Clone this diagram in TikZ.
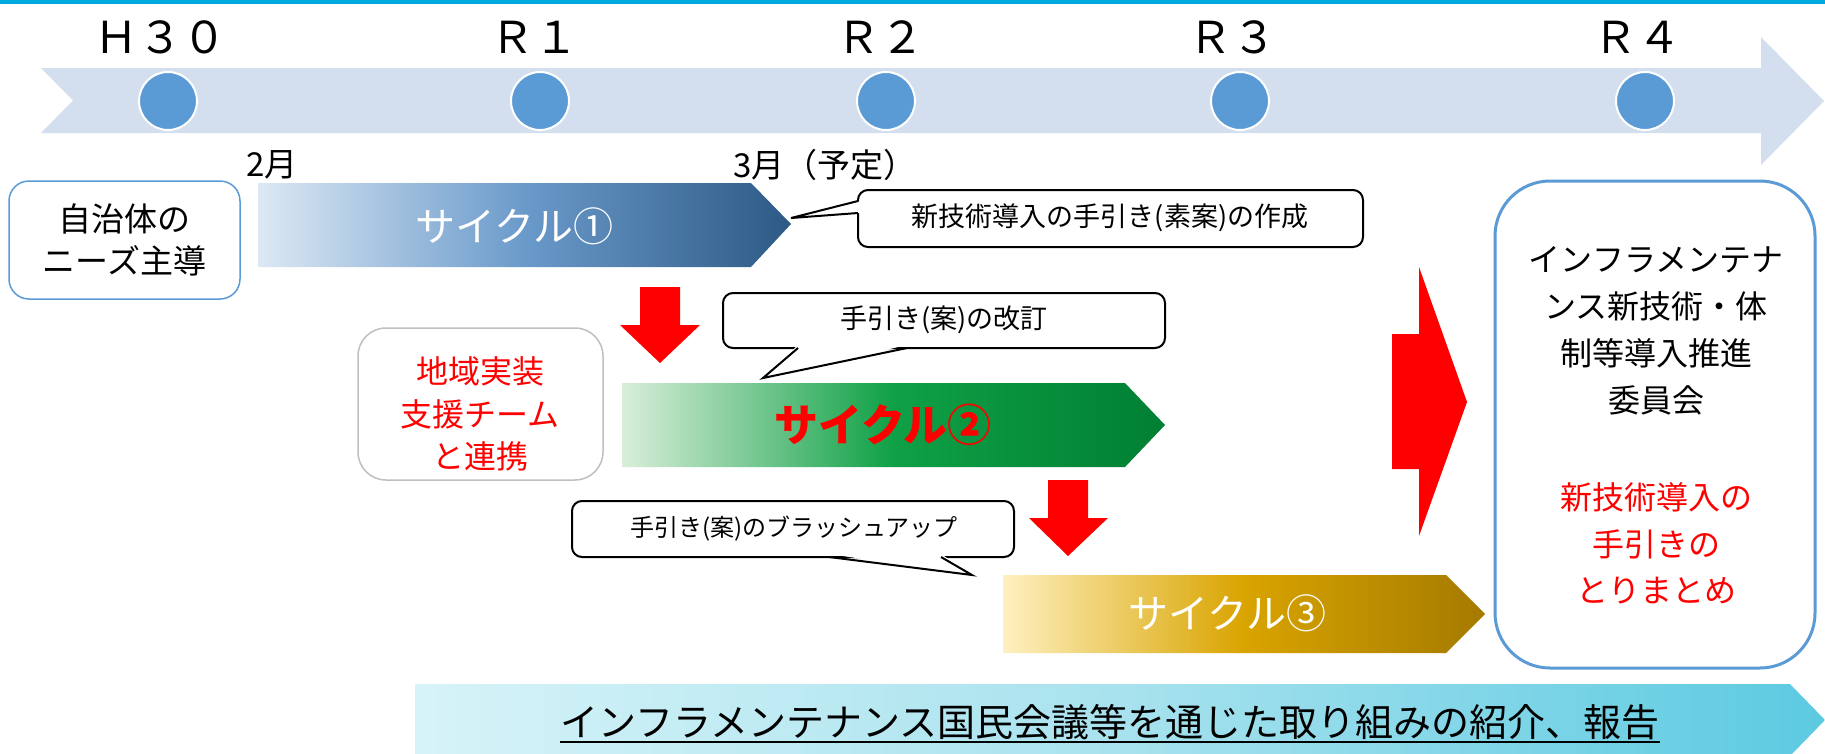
\documentclass[tikz,border=0pt]{standalone}
\usepackage{fontspec}
\setmainfont{Noto Sans CJK JP}
\newcommand\myfs[2]{\fontsize{#1pt}{#2pt}\selectfont}
\definecolor{topline}{HTML}{00A9DE}
\definecolor{band}{HTML}{D3DFEE}
\definecolor{dotblue}{HTML}{5B9BD5}
\definecolor{cAl}{HTML}{DDE8F4}
\definecolor{cAm}{HTML}{6A9ACA}
\definecolor{cAr}{HTML}{2D5985}
\definecolor{cBl}{HTML}{D9EED9}
\definecolor{cBm}{HTML}{0FA046}
\definecolor{cBr}{HTML}{007F33}
\definecolor{cCl}{HTML}{FEF0C0}
\definecolor{cCm}{HTML}{D9A400}
\definecolor{cCr}{HTML}{A47A00}
\definecolor{bnl}{HTML}{D6F3F8}
\definecolor{bnm}{HTML}{A8E2EE}
\definecolor{bnr}{HTML}{5CCAE1}
\definecolor{grayline}{HTML}{BFBFBF}
\definecolor{myred}{HTML}{FF0000}
\begin{document}
\begin{tikzpicture}[x=1pt,y=-1pt,
  dot/.style={circle,fill=dotblue,draw=white,line width=2pt,minimum size=58pt,inner sep=0pt},
  yr/.style={font=\myfs{44}{50},inner sep=0pt,anchor=base},
  mon/.style={font=\myfs{33}{36},inner sep=0pt},
  callbox/.style={draw=black,line width=2pt,fill=white,rounded corners=10pt,inner sep=0pt},
  callptr/.style={draw=black,line width=2pt,line join=miter},
  redarrow/.style={fill=myred},
  cyctext/.style={font=\myfs{40}{44},inner sep=0pt,text=white}
]
\useasboundingbox (0,0) rectangle (1825,753);
\fill[white] (0,0) rectangle (1825,753);
% top line
\fill[topline] (0,0) rectangle (1825,4);
% timeline band
\fill[band] (41,68) -- (1761,68) -- (1761,37) -- (1824,101) -- (1761,165) -- (1761,133) -- (41,133) -- (73,100.5) -- cycle;
\node[dot] (d0) at (168,101) {};
\node[dot] (d1) at (540,101) {};
\node[dot] (d2) at (886,101) {};
\node[dot] (d3) at (1240,101) {};
\node[dot] (d4) at (1645,101) {};
\node[yr] (y0) at (160,53) {Ｈ３０};
\node[yr] (y1) at (534,53) {Ｒ１};
\node[yr] (y2) at (880,53) {Ｒ２};
\node[yr] (y3) at (1232,53) {Ｒ３};
\node[yr] (y4) at (1637,53) {Ｒ４};
\node[mon] (m1) at (272,165) {2月};
\node[mon] (m2) at (825,165) {3月（予定）};
% left box
\node[draw=dotblue,line width=1.5pt,rounded corners=20pt,fill=white,minimum width=231pt,minimum height=118pt,align=center,font=\myfs{33}{42},inner sep=0pt] (need) at (124.5,240) {自治体の\\ニーズ主導};
% cycle 1
\shade[left color=cAl,right color=cAr,middle color=cAm] (258,183) -- (751,183) -- (791,224) -- (751,267) -- (258,267) -- cycle;
\node[cyctext] (cy1) at (514,226) {サイクル①};
% callout 1
\node[callbox,minimum width=505pt,minimum height=57pt] (k1) at (1110.5,218.5) {};
\fill[white] (861,201) -- (791,218) -- (861,213) -- cycle;
\draw[callptr] (858,201) -- (791,218) -- (858,213);
\node[font=\myfs{27}{30},inner sep=0pt] (k1t) at (1110,218) {新技術導入の手引き(素案)の作成};
% red arrow 1
\fill[redarrow] (640,287) -- (680,287) -- (680,325) -- (700,325) -- (660,363) -- (620,325) -- (640,325) -- cycle;
% callout 2
\node[callbox,minimum width=442pt,minimum height=55pt] (k2) at (944,320.5) {};
\fill[white] (798,345) -- (763,378) -- (907,345) -- cycle;
\draw[callptr] (798,348) -- (763,378) -- (907,348);
\node[font=\myfs{27}{30},inner sep=0pt] (k2t) at (944,320) {手引き(案)の改訂};
% regional box
\node[draw=grayline,line width=1.5pt,rounded corners=28pt,fill=white,minimum width=245pt,minimum height=152pt,inner sep=0pt] (reg) at (480.5,404) {};
\node[align=center,font=\myfs{32}{42.5},text=myred,inner sep=0pt] (regt) at (480,414) {地域実装\\支援チーム\\と連携};
% cycle 2
\shade[left color=cBl,right color=cBr,middle color=cBm] (622,383) -- (1125,383) -- (1165,425) -- (1125,467) -- (622,467) -- cycle;
\node[font=\myfs{44}{48}\bfseries,inner sep=0pt,text=myred] (cy2) at (883,425) {サイクル②};
% red arrow 2
\fill[redarrow] (1048,480) -- (1088,480) -- (1088,518) -- (1108,518) -- (1068,556) -- (1029,518) -- (1048,518) -- cycle;
% callout 3
\node[callbox,minimum width=442pt,minimum height=56pt] (k3) at (793,529) {};
\fill[white] (829,554) -- (972,575) -- (941,554) -- cycle;
\draw[callptr] (829,557) -- (972,575) -- (941,557);
\node[font=\myfs{24}{28},inner sep=0pt] (k3t) at (794,529) {手引き(案)のブラッシュアップ};
% cycle 3
\shade[left color=cCl,right color=cCr,middle color=cCm] (1003,575) -- (1446,575) -- (1485,614) -- (1446,653) -- (1003,653) -- cycle;
\node[cyctext] (cy3) at (1227,613) {サイクル③};
% big red arrow
\fill[redarrow] (1392,334) -- (1419,334) -- (1419,267) -- (1467,402) -- (1419,536) -- (1419,469) -- (1392,469) -- cycle;
% committee box
\node[draw=dotblue,line width=3pt,rounded corners=55pt,fill=white,minimum width=320pt,minimum height=487pt,inner sep=0pt] (com) at (1655,424.5) {};
\node[align=center,font=\myfs{32}{47},inner sep=0pt] (comt) at (1656,331) {インフラメンテナ\\ンス新技術・体\\制等導入推進\\委員会};
\node[align=center,font=\myfs{32}{46.5},inner sep=0pt,text=myred] (comr) at (1656,543.5) {新技術導入の\\手引きの\\とりまとめ};
% bottom banner
\shade[left color=bnl,right color=bnr,middle color=bnm] (415,684) -- (1790,684) -- (1825,720) -- (1790,756) -- (415,756) -- cycle;
\node[font=\myfs{38}{40},inner sep=0pt,anchor=base] (bt) at (1110,736) {インフラメンテナンス国民会議等を通じた取り組みの紹介、報告};
\draw[line width=2pt] ([yshift=-6pt]bt.base west) -- ([yshift=-6pt]bt.base east);
\end{tikzpicture}
\end{document}
